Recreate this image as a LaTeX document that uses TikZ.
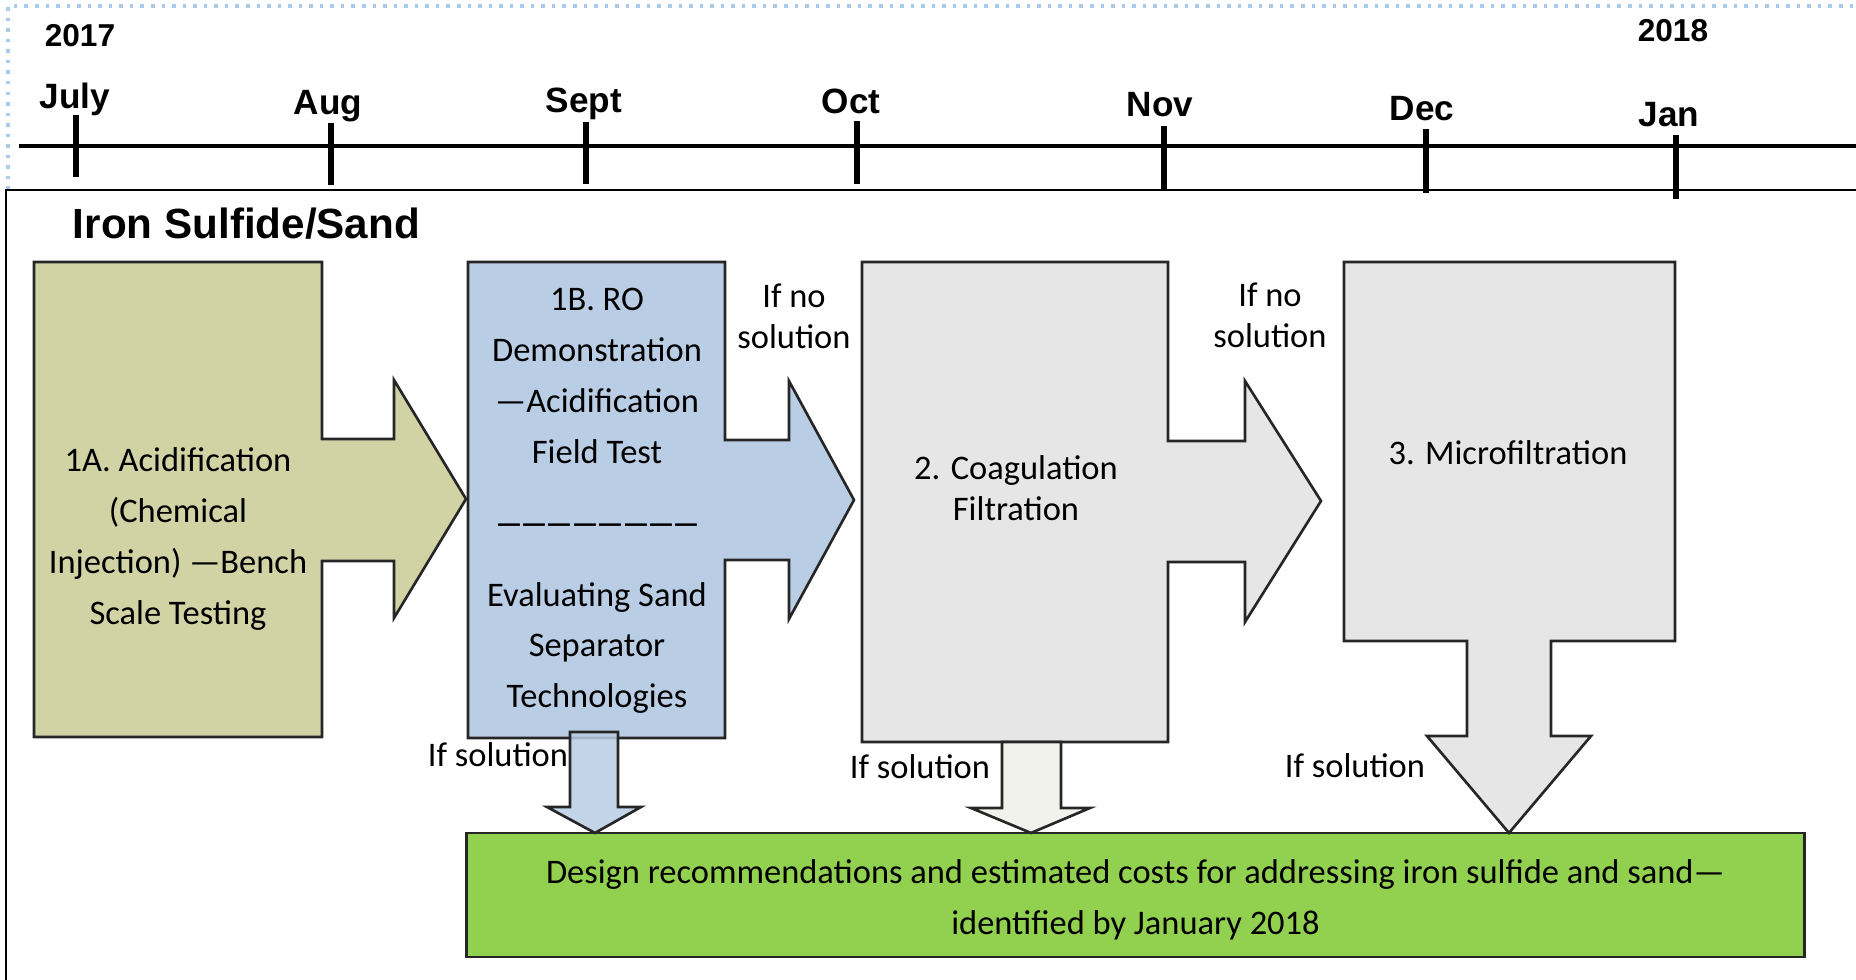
\documentclass[tikz,border=0pt]{standalone}
\usepackage{fontspec}
\setmainfont{Carlito}
\setsansfont{Liberation Sans}
\usetikzlibrary{positioning}

\definecolor{acidfill}{HTML}{D1D3A5}
\definecolor{rofill}{HTML}{B9CDE5}
\definecolor{greyfill}{HTML}{E6E6E6}
\definecolor{palefill}{HTML}{F2F2EC}
\definecolor{designfill}{HTML}{92D050}
\definecolor{edgeblue}{HTML}{A9CBEA}

\begin{document}
\begin{tikzpicture}[x=0.01cm,y=-0.01cm,inner sep=0pt,outer sep=0pt,
blockline/.style={draw=black!85,line width=0.75pt,line join=miter},
boxtext/.style={align=center,font=\fontsize{9.8}{14.5}\selectfont},
tighttext/.style={align=center,font=\fontsize{9.8}{11.7}\selectfont},
monthlabel/.style={anchor=base,font=\sffamily\bfseries\fontsize{10}{12}\selectfont},
yearlabel/.style={anchor=base,font=\sffamily\bfseries\fontsize{9}{11}\selectfont}]
\useasboundingbox (0,0) rectangle (1856,980);

% timeline
\draw[edgeblue,dotted,line width=1pt] (8,190) |- (1856,6);
\draw[line width=1.4pt] (19,146) -- (1856,146);
\foreach \mx/\mtop/\mbot in {76/115/177,331/123/185,586/122/184,857/121/184,1164/126/190,1426/129/193,1676/135/199}
  \draw[line width=1.6pt] (\mx,\mtop) -- (\mx,\mbot);
\foreach \lx/\ly/\lname in {75/109/July,328/115/Aug,584/113/Sept,851/114/Oct,1160/117/Nov,1422/121/Dec,1669/127/Jan}
  \node[monthlabel] (\lname) at (\lx,\ly) {\lname};
\node[yearlabel] (y2017) at (80,47) {2017};
\node[yearlabel] (y2018) at (1673,42) {2018};

% frame
\draw[line width=0.7pt] (1856,190) -| (6,980);
\node[anchor=west,font=\sffamily\bfseries\fontsize{12}{14}\selectfont] (title) at (73,224) {Iron Sulfide/Sand};

% stages
\draw[blockline,fill=acidfill] (34,262) -- (322,262) -- (322,439) -- (394,439) -- (394,380) -- (466,499)
  -- (394,618) -- (394,561) -- (322,561) -- (322,737) -- (34,737) -- cycle;
\draw[blockline,fill=rofill] (468,262) -- (725,262) -- (725,440) -- (789,440) -- (789,381) -- (854,500)
  -- (789,619) -- (789,560) -- (725,560) -- (725,738) -- (468,738) -- cycle;
\draw[blockline,fill=greyfill] (862,262) -- (1168,262) -- (1168,441) -- (1245,441) -- (1245,381) -- (1321,501)
  -- (1245,622) -- (1245,562) -- (1168,562) -- (1168,742) -- (862,742) -- cycle;

\node[draw=black!85,line width=0.75pt,fill=designfill,minimum width=13.37cm,minimum height=1.24cm] (design) at (1135.5,895) {};
\node[boxtext] (designtext) at (1135.5,900)
  {Design recommendations and estimated costs for addressing iron sulfide and sand—\\identified by January 2018};
\coordinate (tipro) at (design.north -| 595,0);
\coordinate (tipcoag) at (design.north -| 1031,0);
\coordinate (tipmicro) at (design.north -| 1509,0);

\draw[blockline,fill=greyfill] (1344,262) -- (1675,262) -- (1675,641) -- (1551,641) -- (1551,736) -- (1591,736)
  -- (tipmicro) -- (1427,736) -- (1467,736) -- (1467,641) -- (1344,641) -- cycle;
\draw[blockline,fill=rofill,fill opacity=.85] (570,732) -- (618,732) -- (618,807) -- (641,807) -- (tipro)
  -- (547,807) -- (570,807) -- cycle;
\draw[blockline,fill=palefill] (1002,742) -- (1061,742) -- (1061,808) -- (1090,808) -- (tipcoag)
  -- (971,808) -- (1002,808) -- cycle;

% texts
\node[boxtext] (acid) at (178,539) {1A. Acidification\\(Chemical\\Injection) —Bench\\Scale Testing};
\node[boxtext] (ro) at (597,376) {1B. RO\\Demonstration\\—Acidification\\Field Test};
\node[font=\fontsize{12.5}{12.5}\selectfont] (sep) at (598,523)
  {\_\kern1pt\_\kern1pt\_\kern1pt\_\kern1pt\_\kern1pt\_\kern1pt\_\kern1pt\_};
\node[boxtext] (sand) at (597,648) {Evaluating Sand\\Separator\\Technologies};
\node[tighttext] (coag) at (1016,488) {2. Coagulation\\Filtration};
\node[tighttext] (micro) at (1508,453) {3. Microfiltration};

\node[tighttext] (nosolA) at (794,316) {If no\\solution};
\node[tighttext] (nosolB) at (1270,315) {If no\\solution};
\node[tighttext] (solA) at (498,755) {If solution};
\node[tighttext] (solB) at (920,767) {If solution};
\node[tighttext] (solC) at (1355,766) {If solution};
\end{tikzpicture}
\end{document}
